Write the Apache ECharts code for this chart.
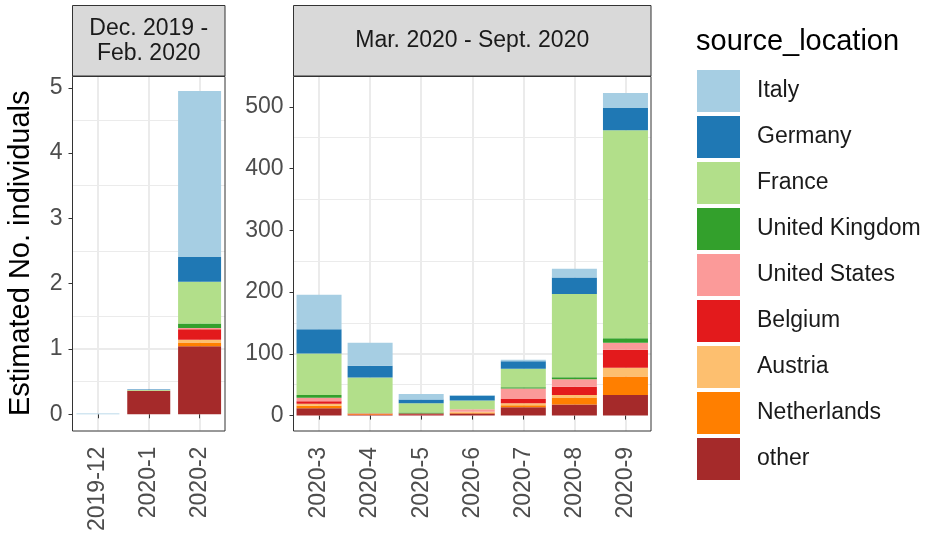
<!DOCTYPE html>
<html>
<head>
<meta charset="utf-8">
<script src="https://cdn.jsdelivr.net/npm/echarts@6/dist/echarts.min.js"></script>
<style>
  html, body { margin: 0; padding: 0; background: #fff; }
  #chart { width: 925px; height: 534px; }
</style>
</head>
<body>
<div id="chart"></div>
<script>
// facet columns
const monthsEarly = ['2019-12', '2020-1', '2020-2'];
const monthsLate = ['2020-3', '2020-4', '2020-5', '2020-6', '2020-7', '2020-8', '2020-9'];
const yTicksEarly = [0, 1, 2, 3, 4, 5];
const yTicksLate = [0, 100, 200, 300, 400, 500];

// stack order, bottom -> top
const sources = ['other', 'Netherlands', 'Austria', 'Belgium', 'United States', 'United Kingdom', 'France', 'Germany', 'Italy'];
const colors = ['#A52A2A', '#FF7F00', '#FDBF6F', '#E31A1C', '#FB9A99', '#33A02C', '#B2DF8A', '#1F78B4', '#A6CEE3'];

// estimated individuals, 2019-12 .. 2020-9
const other        = [0,    0.36, 1.04, 12,   0.8,  2,   3.5,  13.6, 17.8,  33.5];
const netherlands  = [0,    0,    0.06, 3.7,  1.2,  0,   1,    3.2,  11.4,  29.7];
const austria      = [0,    0,    0.04, 3.3,  0,    0,   1.5,  3.2,  4.3,   14.1];
const belgium      = [0,    0,    0.16, 4.3,  1.2,  1.3, 0,    7,    13,    29.2];
const unitedStates = [0,    0,    0.02, 5.4,  0,    0,   4.4,  16.8, 12.5,  11.3];
const unitedKingdom= [0,    0,    0.07, 4.8,  0,    1.7, 0,    2.2,  3.2,   7.6];
const france       = [0,    0.01, 0.64, 67,   58.4, 15,  13.9, 29.7, 134.8, 336.6];
const germany      = [0,    0.01, 0.38, 39.5, 19,   6,   7.7,  12.3, 26.7,  36];
const italy        = [0.01, 0,    2.54, 55.6, 37.5, 9,   1.5,  2.3,  14,    24.5];

const values = [other, netherlands, austria, belgium, unitedStates, unitedKingdom, france, germany, italy];

const FONT = "'Liberation Sans', Arial, sans-serif";
const clear = 'rgba(0,0,0,0)';
const gridCol = '#ebebeb';

const chart = echarts.init(document.getElementById('chart'));

function mainY(gridIndex, min, max, step, ticks, withName) {
  return {
    type: 'value', gridIndex: gridIndex, min: min, max: max, interval: step,
    axisLine: { show: false },
    axisTick: { show: true, length: 4, customValues: ticks, lineStyle: { color: '#333', width: 1 } },
    axisLabel: {
      customValues: ticks, color: '#4d4d4d', fontSize: 23, margin: 10, fontFamily: FONT,
      formatter: v => (ticks.indexOf(Math.round(v)) >= 0 && Math.abs(v - Math.round(v)) < 1e-6) ? String(Math.round(v)) : ''
    },
    splitLine: { show: true, showMaxLine: false, lineStyle: { color: [clear, gridCol, clear, clear], width: 2 } },
    name: withName ? 'Estimated No. individuals' : '',
    nameLocation: 'middle', nameGap: 37,
    nameTextStyle: { fontSize: 29, color: '#000', fontFamily: FONT }
  };
}

function minorY(gridIndex, min, max, step) {
  return {
    type: 'value', gridIndex: gridIndex, min: min, max: max, interval: step, position: 'right',
    axisLine: { show: false }, axisTick: { show: false }, axisLabel: { show: false },
    splitLine: { show: true, showMaxLine: false, lineStyle: { color: [clear, clear, clear, gridCol], width: 1 } }
  };
}

function catX(gridIndex, cats) {
  return {
    type: 'category', gridIndex: gridIndex, data: cats,
    axisLine: { show: false },
    axisTick: { show: true, alignWithLabel: true, length: 4, lineStyle: { color: '#333', width: 1 } },
    axisLabel: { rotate: 90, color: '#4d4d4d', fontSize: 23, margin: 16, fontFamily: FONT },
    splitLine: { show: true, alignWithLabel: true, lineStyle: { color: gridCol, width: 2 } }
  };
}

const series = [];
sources.forEach((name, i) => {
  series.push({
    name: name, type: 'bar', stack: 'early', xAxisIndex: 0, yAxisIndex: 0,
    barWidth: 43, itemStyle: { color: colors[i] },
    data: values[i].slice(0, 3)
  });
  series.push({
    name: name, type: 'bar', stack: 'late', xAxisIndex: 1, yAxisIndex: 2,
    barWidth: 45, itemStyle: { color: colors[i] },
    data: values[i].slice(3)
  });
});

function strip(x, w, lines) {
  return [
    { type: 'rect', shape: { x: x, y: 5.5, width: w, height: 70.5 },
      style: { fill: '#d9d9d9', stroke: '#333', lineWidth: 1 }, z: 100 },
    { type: 'text', x: x + w / 2, y: 41, z: 101,
      style: { text: lines, fill: '#1a1a1a', font: '23px ' + FONT, align: 'center', verticalAlign: 'middle', lineHeight: 25 } }
  ];
}

option = {
  animation: false,
  textStyle: { fontFamily: FONT },
  grid: [
    { left: 72.5, top: 76, width: 152.5, height: 355 },
    { left: 293.5, top: 76, width: 357.5, height: 355 }
  ],
  xAxis: [catX(0, monthsEarly), catX(1, monthsLate)],
  yAxis: [
    mainY(0, -0.25, 5.18, 0.25, yTicksEarly, true),
    minorY(0, -0.25, 5.18, 0.25),
    mainY(1, -25, 550, 25, yTicksLate, false),
    minorY(1, -25, 550, 25)
  ],
  legend: {
    data: sources.slice().reverse(),
    orient: 'vertical', left: 697, top: 70, padding: 0,
    itemWidth: 43, itemHeight: 42, itemGap: 4, icon: 'rect',
    selectedMode: false,
    textStyle: { fontSize: 23, color: '#1a1a1a', fontFamily: FONT, padding: [0, 0, 0, 12] }
  },
  graphic: [
    { type: 'rect', shape: { x: 72.5, y: 76.5, width: 152.5, height: 354.5 },
      style: { fill: 'none', stroke: '#333', lineWidth: 1 }, z: 100 },
    { type: 'rect', shape: { x: 293.5, y: 76.5, width: 357.5, height: 354.5 },
      style: { fill: 'none', stroke: '#333', lineWidth: 1 }, z: 100 },
    ...strip(72.5, 152.5, 'Dec. 2019 -\nFeb. 2020'),
    ...strip(293.5, 357.5, 'Mar. 2020 - Sept. 2020'),
    { type: 'text', x: 696, y: 42, z: 101,
      style: { text: 'source_location', fill: '#000', font: '29px ' + FONT, align: 'left', verticalAlign: 'middle' } }
  ],
  series: series
};

chart.setOption(option);
</script>
</body>
</html>
